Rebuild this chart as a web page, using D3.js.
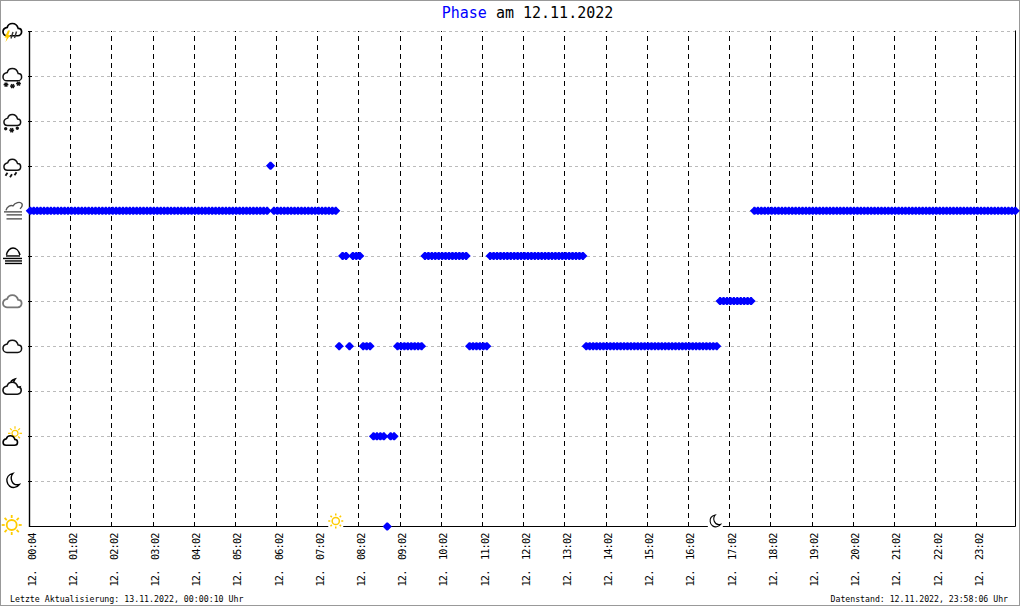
<!DOCTYPE html>
<html>
<head>
<meta charset="utf-8">
<style>
  html, body { margin: 0; padding: 0; background: #fff; }
  svg { display: block; }
  text { font-family: "DejaVu Sans Mono", monospace; fill: #000; white-space: pre; }
</style>
<script src="https://cdn.jsdelivr.net/npm/d3@7"></script>
</head>
<body>
<script>
// phase codes, bottom to top of the y axis
const phaseNames = ['sonne', 'mond', 'sonneWolke', 'mondWolke', 'wolke', 'wolkeGrau',
  'nebel', 'dunst', 'regen', 'schnee', 'schneeStark', 'gewitter'];

const hourLabels = ['12.  00:04', '12.  01:02', '12.  02:02', '12.  03:02', '12.  04:02', '12.  05:02',
  '12.  06:02', '12.  07:02', '12.  08:02', '12.  09:02', '12.  10:02', '12.  11:02',
  '12.  12:02', '12.  13:02', '12.  14:02', '12.  15:02', '12.  16:02', '12.  17:02',
  '12.  18:02', '12.  19:02', '12.  20:02', '12.  21:02', '12.  22:02', '12.  23:02'];

// one sample about every 5 minutes, 12 per row = one hour
const phaseValues = [
  7,7,7,7,7,7,7,7,7,7,7,7,
  7,7,7,7,7,7,7,7,7,7,7,7,
  7,7,7,7,7,7,7,7,7,7,7,7,
  7,7,7,7,7,7,7,7,7,7,7,7,
  7,7,7,7,7,7,7,7,7,7,7,7,
  7,7,7,7,7,7,7,7,7,7,8,7,
  7,7,7,7,7,7,7,7,7,7,7,7,
  7,7,7,7,7,7,4,6,6,4,6,6,
  6,4,4,4,2,2,2,2,0,2,2,4,
  4,4,4,4,4,4,4,6,6,6,6,6,
  6,6,6,6,6,6,6,6,4,4,4,4,
  4,4,6,6,6,6,6,6,6,6,6,6,
  6,6,6,6,6,6,6,6,6,6,6,6,
  6,6,6,6,6,6,4,4,4,4,4,4,
  4,4,4,4,4,4,4,4,4,4,4,4,
  4,4,4,4,4,4,4,4,4,4,4,4,
  4,4,4,4,4,4,4,4,4,5,5,5,
  5,5,5,5,5,5,5,7,7,7,7,7,
  7,7,7,7,7,7,7,7,7,7,7,7,
  7,7,7,7,7,7,7,7,7,7,7,7,
  7,7,7,7,7,7,7,7,7,7,7,7,
  7,7,7,7,7,7,7,7,7,7,7,7,
  7,7,7,7,7,7,7,7,7,7,7,7,
  7,7,7,7,7,7,7,7,7,7,7,7
];

const sunriseSample = 89;
const sunsetSample = 199.6;
const titleText = ['Phase', ' am 12.11.2022'];
const footerLeft = 'Letzte Aktualisierung: 13.11.2022, 00:00:10 Uhr';
const footerRight = 'Datenstand: 12.11.2022, 23:58:06 Uhr';

const width = 1020, height = 606;
const plot = { left: 29, right: 1014, top: 30.5, bottom: 526.5 };
const markerOffset = 1.3;

const svg = d3.select('body').append('svg')
  .attr('width', width)
  .attr('height', height);

svg.append('rect')
  .attr('x', 0.5).attr('y', 0.5)
  .attr('width', width - 1).attr('height', height - 1)
  .attr('fill', '#fff')
  .attr('stroke', '#999');

const x = d3.scaleLinear().domain([0, 287]).range([plot.left, plot.right]);
const y = d3.scaleLinear().domain([0, phaseNames.length - 1]).range([plot.bottom, plot.top]);

const hourTicks = hourLabels.map((d, i) => i * 12);

// title
const title = svg.append('text')
  .attr('x', 527.5).attr('y', 18)
  .attr('text-anchor', 'middle')
  .style('font-size', '15px');
title.append('tspan').style('fill', '#0000ff').text(titleText[0]);
title.append('tspan').text(titleText[1]);

// horizontal grid
const gridY = d3.axisLeft(y)
  .tickValues(d3.range(1, phaseNames.length))
  .tickSize(-(1016 - plot.left))
  .tickFormat('');
svg.append('g')
  .attr('transform', 'translate(' + plot.left + ',0)')
  .call(gridY)
  .call(g => g.select('.domain').remove())
  .selectAll('line')
  .attr('stroke', '#bbb')
  .attr('stroke-dasharray', '3,3')
  .attr('shape-rendering', 'crispEdges');

// vertical grid
const gridX = d3.axisBottom(x)
  .tickValues(hourTicks.slice(1))
  .tickSize(-(plot.bottom - plot.top))
  .tickFormat('');
svg.append('g')
  .attr('transform', 'translate(0,' + plot.bottom + ')')
  .call(gridX)
  .call(g => g.select('.domain').remove())
  .selectAll('line')
  .attr('stroke', '#000')
  .attr('stroke-dasharray', '5,4')
  .attr('shape-rendering', 'crispEdges');

// axes
const yAxis = d3.axisLeft(y)
  .tickValues(d3.range(1, phaseNames.length))
  .tickSize(0)
  .tickFormat('');
const yAxisG = svg.append('g')
  .attr('transform', 'translate(' + plot.left + ',0)')
  .call(yAxis);
yAxisG.select('.domain').attr('stroke', '#000').attr('stroke-width', 1.4);
yAxisG.selectAll('.tick').append('line')
  .attr('x1', -1).attr('x2', 3)
  .attr('stroke', '#000')
  .attr('shape-rendering', 'crispEdges');

const xAxis = d3.axisBottom(x)
  .tickValues(hourTicks)
  .tickSize(0)
  .tickFormat((d, i) => hourLabels[i]);
const xAxisG = svg.append('g')
  .attr('transform', 'translate(0,' + plot.bottom + ')')
  .call(xAxis);
xAxisG.select('.domain').remove();
xAxisG.selectAll('text')
  .attr('text-anchor', 'end')
  .attr('x', 0).attr('y', 0).attr('dy', null)
  .attr('transform', 'translate(6,7) rotate(-90)')
  .style('font-size', '10.2px')
  .style('letter-spacing', '-0.84px')
  .style('font-family', '"DejaVu Sans Mono", monospace');

// bottom and right plot borders
svg.append('line')
  .attr('x1', plot.left).attr('x2', 1015.5)
  .attr('y1', plot.bottom).attr('y2', plot.bottom)
  .attr('stroke', '#000');
svg.append('line')
  .attr('x1', 1015.5).attr('x2', 1015.5)
  .attr('y1', plot.top).attr('y2', plot.bottom)
  .attr('stroke', '#000');

// data points, a fat diamond like the bitmap marker of the original
const fatDiamond = {
  draw(ctx) {
    ctx.moveTo(-4.6, 0);
    ctx.lineTo(-1.7, -2.9);
    ctx.lineTo(-0.7, -4);
    ctx.lineTo(0.7, -4);
    ctx.lineTo(1.7, -2.9);
    ctx.lineTo(4.6, 0);
    ctx.lineTo(1.7, 2.9);
    ctx.lineTo(0.7, 4);
    ctx.lineTo(-0.7, 4);
    ctx.lineTo(-1.7, 2.9);
    ctx.closePath();
  }
};
svg.append('g')
  .selectAll('path')
  .data(phaseValues)
  .enter()
  .append('path')
  .attr('d', d3.symbol().type(fatDiamond))
  .attr('transform', (d, i) => 'translate(' + (x(i) + markerOffset) + ',' + y(d) + ')')
  .attr('fill', '#0000ff');

// weather icons
const cloud = 'M4.5,13 H15.5 C18,13 19.5,11 19.5,9 C19.5,7 18,5.5 16,5.5 C15,2 12.5,0.5 10,0.5 C7.5,0.5 5.5,2 4.8,4.5 C2.5,5 0.5,6.8 0.5,9 C0.5,11.3 2.3,13 4.5,13 Z';
const moon = 'M7,0.5 C2.5,1.5 0.5,5 1,8.5 C1.5,12.5 5,15 8.5,14.5 C10.5,14.2 12.5,13 13.5,11.5 C10,12.5 7,11 5.8,8 C4.8,5.5 5.3,2.5 7,0.5 Z';

function drawCloud(g, px, py, scale, color, sw) {
  g.append('path')
    .attr('d', cloud)
    .attr('transform', 'translate(' + px + ',' + py + ') scale(' + scale + ')')
    .attr('fill', '#fff')
    .attr('stroke', color)
    .attr('stroke-width', sw / scale);
}

function drawSun(g, cx, cy, r, rayFrom, rayTo, sw) {
  g.append('circle')
    .attr('cx', cx).attr('cy', cy).attr('r', r)
    .attr('fill', '#fff')
    .attr('stroke', '#ffcc00')
    .attr('stroke-width', sw);
  d3.range(8).forEach(k => {
    const a = k * Math.PI / 4;
    g.append('line')
      .attr('x1', cx + Math.cos(a) * rayFrom).attr('y1', cy + Math.sin(a) * rayFrom)
      .attr('x2', cx + Math.cos(a) * rayTo).attr('y2', cy + Math.sin(a) * rayTo)
      .attr('stroke', '#ffcc00')
      .attr('stroke-width', sw);
  });
}

function drawMoon(g, px, py, scale, sw) {
  g.append('path')
    .attr('d', moon)
    .attr('transform', 'translate(' + px + ',' + py + ') scale(' + scale + ')')
    .attr('fill', '#fff')
    .attr('stroke', '#000')
    .attr('stroke-width', sw / scale);
}

function drawFlake(g, cx, cy, r) {
  [0, 60, 120].forEach(a => {
    const t = a * Math.PI / 180;
    g.append('line')
      .attr('x1', cx - Math.cos(t) * r).attr('y1', cy - Math.sin(t) * r)
      .attr('x2', cx + Math.cos(t) * r).attr('y2', cy + Math.sin(t) * r)
      .attr('stroke', '#111').attr('stroke-width', 1.5);
  });
}

function drawLines(g, rows, color, sw) {
  rows.forEach(r => {
    g.append('line')
      .attr('x1', r[0]).attr('x2', r[1])
      .attr('y1', r[2]).attr('y2', r[2])
      .attr('stroke', color)
      .attr('stroke-width', sw);
  });
}

// each one is drawn relative to its own tick on the y axis
const iconDrawers = {
  sonne: g => drawSun(g, 11.7, -1.5, 5, 7, 10, 1.8),
  mond: g => drawMoon(g, 6, -8.5, 1, 1.4),
  sonneWolke: g => {
    drawSun(g, 15, -3, 3, 4.5, 7, 1.2);
    drawCloud(g, 2.7, -1, 0.76, '#000', 1.6);
  },
  mondWolke: g => {
    drawMoon(g, 10, -12.5, 0.72, 1.5);
    drawCloud(g, 2.5, -9.5, 0.96, '#111', 1.6);
  },
  wolke: g => drawCloud(g, 2.5, -6.5, 0.98, '#111', 1.5),
  wolkeGrau: g => drawCloud(g, 2.5, -6.5, 0.98, '#777', 1.8),
  nebel: g => {
    g.append('path')
      .attr('d', 'M6.5,-1 C7,-5 10,-8 13,-8 C16,-8 19,-5 20,-1')
      .attr('fill', 'none').attr('stroke', '#000').attr('stroke-width', 1.5);
    drawLines(g, [[6, 20, 0], [3, 22, 2.5], [5, 22, 5], [5, 22, 7.5]], '#000', 1.4);
  },
  dunst: g => {
    g.append('path')
      .attr('d', 'M6,-0.5 C7,-5 11,-6 13,-5 C15,-8 20,-10 22,-7 C23,-5 21,-3 20,-2')
      .attr('fill', 'none').attr('stroke', '#555').attr('stroke-width', 1.4);
    drawLines(g, [[4, 22, 1], [6.5, 22, 4], [6.5, 22, 8]], '#555', 1.4);
  },
  regen: g => {
    drawCloud(g, 3.5, -7, 0.88, '#111', 1.5);
    [[6.5, 9], [11, 10.5], [15.5, 8.5]].forEach(p => {
      g.append('line')
        .attr('x1', p[0] + 1).attr('y1', p[1] - 2)
        .attr('x2', p[0] - 1).attr('y2', p[1] + 1)
        .attr('stroke', '#111').attr('stroke-width', 1.8);
    });
  },
  schnee: g => {
    drawCloud(g, 3.5, -6.5, 0.88, '#111', 1.5);
    drawFlake(g, 5.7, 8, 1.6);
    drawFlake(g, 11.7, 9.5, 2.4);
    drawFlake(g, 17.3, 7.5, 1.6);
  },
  schneeStark: g => {
    drawCloud(g, 2.5, -7.5, 0.98, '#111', 1.5);
    drawFlake(g, 6, 9, 2.4);
    drawFlake(g, 12.5, 10.5, 2.4);
    drawFlake(g, 18.5, 8, 2.4);
  },
  gewitter: g => {
    drawCloud(g, 2.5, -7.5, 0.98, '#000', 1.7);
    g.append('path')
      .attr('d', 'M8,0 L4.5,7 L6.8,7 L5.5,11.5 L10.5,4.5 L8.3,4.5 L10,0 Z')
      .attr('fill', '#ffcc00');
    [[12, 3], [15.5, 2.5]].forEach(p => {
      g.append('line')
        .attr('x1', p[0] + 1).attr('y1', p[1] - 1.5)
        .attr('x2', p[0] - 1).attr('y2', p[1] + 5)
        .attr('stroke', '#333').attr('stroke-width', 1.4);
    });
  }
};

phaseNames.forEach((name, i) => {
  const g = svg.append('g')
    .attr('class', 'icon ' + name)
    .attr('transform', 'translate(0,' + y(i) + ')');
  iconDrawers[name](g);
});

// sunrise and sunset on the time axis
const sunG = svg.append('g').attr('transform', 'translate(' + (x(sunriseSample) + markerOffset) + ',' + (plot.bottom - 5.5) + ')');
sunG.append('rect').attr('x', -7.5).attr('y', -8).attr('width', 15).attr('height', 15).attr('fill', '#fff');
drawSun(sunG, 0, 0, 3.6, 5.5, 7.5, 1.5);

const moonG = svg.append('g').attr('transform', 'translate(' + (x(sunsetSample) + markerOffset) + ',' + (plot.bottom - 5.5) + ')');
moonG.append('rect').attr('x', -7.5).attr('y', -8).attr('width', 15).attr('height', 15).attr('fill', '#fff');
drawMoon(moonG, -6, -6.5, 0.85, 1.1);

// footer
svg.append('text')
  .attr('x', 10).attr('y', 602)
  .style('font-size', '8.25px')
  .text(footerLeft);
svg.append('text')
  .attr('x', 1008).attr('y', 602)
  .attr('text-anchor', 'end')
  .style('font-size', '8.2px')
  .text(footerRight);
</script>
</body>
</html>
